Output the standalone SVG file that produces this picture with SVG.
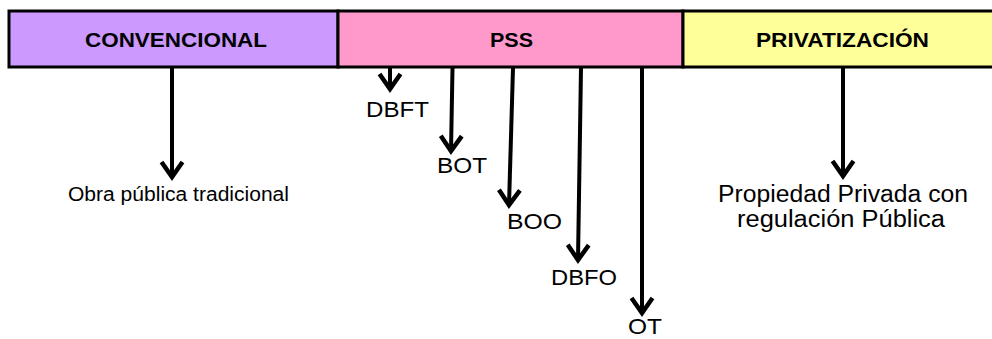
<svg xmlns="http://www.w3.org/2000/svg" width="992" height="339" viewBox="0 0 992 339">
<style>
.box{stroke:#000;stroke-width:3}
.hdr{font-family:"Liberation Sans",Arial,sans-serif;font-weight:bold;font-size:21px;fill:#000}
.lbl{font-family:"Liberation Sans",Arial,sans-serif;font-size:22px;fill:#000}
.arr{stroke:#000;stroke-width:4;fill:none;marker-end:url(#chev)}
</style>
<defs>
<marker id="chev" markerUnits="userSpaceOnUse" markerWidth="30" markerHeight="30" viewBox="-20 -15 25 30" refX="0" refY="0" orient="auto" overflow="visible">
<path d="M-15,-10.5 L0,0 L-15,10.5" fill="none" stroke="#000" stroke-width="4.5" stroke-linejoin="miter"/>
</marker>
</defs>
<rect width="992" height="339" fill="#fff"/>
<g id="convencional">
<rect class="box" x="9" y="11" width="329" height="56" fill="#CC99FF"/>
<text class="hdr" x="85" y="47" textLength="182" lengthAdjust="spacingAndGlyphs">CONVENCIONAL</text>
</g>
<g id="pss">
<rect class="box" x="338" y="11" width="345" height="56" fill="#FF99CC"/>
<text class="hdr" x="490" y="47" textLength="43" lengthAdjust="spacingAndGlyphs">PSS</text>
</g>
<g id="privatizacion">
<rect class="box" x="683" y="11" width="320" height="56" fill="#FFFF99"/>
<text class="hdr" x="756" y="47" textLength="173" lengthAdjust="spacingAndGlyphs">PRIVATIZACIÓN</text>
</g>
<g id="connectors">
<line class="arr" x1="172" y1="68" x2="172" y2="177"/>
<line class="arr" x1="390" y1="68" x2="390" y2="89"/>
<line class="arr" x1="452.5" y1="68" x2="451" y2="151"/>
<line class="arr" x1="513" y1="68" x2="509" y2="205"/>
<line class="arr" x1="581" y1="68" x2="578" y2="260"/>
<line class="arr" x1="642" y1="68" x2="642" y2="313"/>
<line class="arr" x1="843" y1="68" x2="843" y2="176"/>
</g>
<g id="obra">
<text class="lbl" style="font-size:20px" x="68" y="201" textLength="221" lengthAdjust="spacingAndGlyphs">Obra pública tradicional</text>
</g>
<g id="dbft"><text class="lbl" x="366" y="117" textLength="63" lengthAdjust="spacingAndGlyphs">DBFT</text></g>
<g id="bot"><text class="lbl" x="437" y="173" textLength="50" lengthAdjust="spacingAndGlyphs">BOT</text></g>
<g id="boo"><text class="lbl" x="507" y="229" textLength="55" lengthAdjust="spacingAndGlyphs">BOO</text></g>
<g id="dbfo"><text class="lbl" x="551" y="285" textLength="66" lengthAdjust="spacingAndGlyphs">DBFO</text></g>
<g id="ot"><text class="lbl" x="628" y="334" textLength="34" lengthAdjust="spacingAndGlyphs">OT</text></g>
<g id="propiedad">
<text class="lbl" style="font-size:23px" x="718" y="202" textLength="250" lengthAdjust="spacingAndGlyphs">Propiedad Privada con</text>
<text class="lbl" style="font-size:23px" x="737" y="227" textLength="208" lengthAdjust="spacingAndGlyphs">regulación Pública</text>
</g>
</svg>
